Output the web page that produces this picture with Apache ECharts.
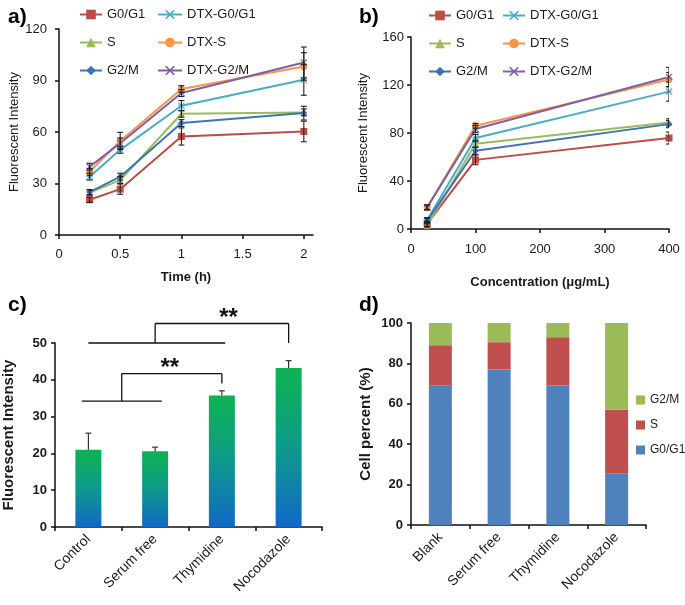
<!DOCTYPE html>
<html><head><meta charset="utf-8">
<script src="https://cdn.jsdelivr.net/npm/echarts@6/dist/echarts.min.js"></script>
<style>html,body{margin:0;padding:0;background:#fff}#c{width:685px;height:605px}</style>
</head><body><div id="c"></div>
<script>
// ---- Panel a: fluorescence vs time ----
const timeX = [0.25, 0.5, 1, 2];
const aG0G1 = [20.5, 26.7, 57.4, 60.3];
const aS = [24.7, 32, 70.6, 71.4];
const aG2M = [25, 34, 65.2, 71];
const aDtxG0G1 = [34, 49.6, 75.3, 90.4];
const aDtxS = [36.8, 54.8, 85, 98.2];
const aDtxG2M = [39.8, 53.5, 82.7, 100.5];
const aErrG0G1 = [1.5, 3, 5, 6];
const aErrS = [1.5, 2, 2, 2];
const aErrG2M = [1.5, 2, 2, 4];
const aErrDtxG0G1 = [2, 2, 3, 9];
const aErrDtxS = [2, 5, 2, 8];
const aErrDtxG2M = [2, 3, 2, 9];
// ---- Panel b: fluorescence vs concentration ----
const concX = [25, 100, 400];
const bG0G1 = [4.2, 57.6, 75.8];
const bS = [3, 71, 88.8];
const bG2M = [7, 65.2, 87.4];
const bDtxG0G1 = [7.5, 75.8, 114.5];
const bDtxS = [18, 86, 124.5];
const bDtxG2M = [18, 83.3, 126.7];
const bErrG0G1 = [2, 4, 5];
const bErrS = [1.5, 3, 3];
const bErrG2M = [2, 3, 3];
const bErrDtxG0G1 = [2, 3, 8];
const bErrDtxS = [2, 2, 6];
const bErrDtxG2M = [2, 3, 8];
// ---- Panel c ----
const cCats = ['Control', 'Serum free', 'Thymidine', 'Nocodazole'];
const cVals = [21.0, 20.6, 35.7, 43.2];
const cErr = [4.5, 1.1, 1.3, 2.0];
// ---- Panel d ----
const dCats = ['Blank', 'Serum free', 'Thymidine', 'Nocodazole'];
const dG0G1 = [69, 77, 69, 25.6];
const dS = [20, 13.5, 24, 31.4];
const dG2M = [11, 9.5, 7, 43];
// ---- tick settings ----
const aXTickValues = [0, 0.5, 1, 1.5, 2];
const aXTicks = {min: 0, max: 2.075};
const aYTicks = {min: 0, max: 120, interval: 30};
const bXTicks = {min: 0, max: 400, interval: 100};
const bYTicks = {min: 0, max: 160, interval: 40};
const cYTicks = {min: 0, max: 50, interval: 10};
const dYTicks = {min: 0, max: 100, interval: 20};

const seriesNames = ['G0/G1', 'DTX-G0/G1', 'S', 'DTX-S', 'G2/M', 'DTX-G2/M'];
const colors = {'G0/G1': '#BE4B48', 'DTX-G0/G1': '#4BACC6', 'S': '#9BBB59', 'DTX-S': '#F79646', 'G2/M': '#3F73B8', 'DTX-G2/M': '#7F5FA6'};
const XPATH = 'path://M0,1.2 L1.2,0 L5,3.8 L8.8,0 L10,1.2 L6.2,5 L10,8.8 L8.8,10 L5,6.2 L1.2,10 L0,8.8 L3.8,5 Z';
const STARPATH = 'path://M0,1.2 L1.2,0 L5,3.8 L8.8,0 L10,1.2 L6.2,5 L10,8.8 L8.8,10 L5,6.2 L1.2,10 L0,8.8 L3.8,5 Z M0,4.4 L10,4.4 L10,5.6 L0,5.6 Z';
const symbols = {'G0/G1': 'rect', 'DTX-G0/G1': STARPATH, 'S': 'triangle', 'DTX-S': 'circle', 'G2/M': 'diamond', 'DTX-G2/M': XPATH};

const aData = {'G0/G1': [aG0G1, aErrG0G1], 'DTX-G0/G1': [aDtxG0G1, aErrDtxG0G1], 'S': [aS, aErrS], 'DTX-S': [aDtxS, aErrDtxS], 'G2/M': [aG2M, aErrG2M], 'DTX-G2/M': [aDtxG2M, aErrDtxG2M]};
const bData = {'G0/G1': [bG0G1, bErrG0G1], 'DTX-G0/G1': [bDtxG0G1, bErrDtxG0G1], 'S': [bS, bErrS], 'DTX-S': [bDtxS, bErrDtxS], 'G2/M': [bG2M, bErrG2M], 'DTX-G2/M': [bDtxG2M, bErrDtxG2M]};

const FONT = 'Liberation Sans';
const TXT = '#1a1a1a';

function errRender(upOnly) {
  return function (params, api) {
    const x = api.value(0), y = api.value(1), e = api.value(2);
    const top = api.coord([x, y + e]);
    const bot = api.coord(upOnly ? [x, y] : [x, y - e]);
    const w = 3;
    const st = {stroke: '#222', lineWidth: 1.1};
    const ch = [
      {type: 'line', shape: {x1: top[0], y1: top[1], x2: bot[0], y2: bot[1]}, style: st},
      {type: 'line', shape: {x1: top[0] - w, y1: top[1], x2: top[0] + w, y2: top[1]}, style: st}
    ];
    if (!upOnly) ch.push({type: 'line', shape: {x1: bot[0] - w, y1: bot[1], x2: bot[0] + w, y2: bot[1]}, style: st});
    return {type: 'group', children: ch};
  };
}

function buildErr(xs, dataMap) {
  const out = [];
  seriesNames.forEach(n => {
    const [v, e] = dataMap[n];
    xs.forEach((x, i) => out.push([x, v[i], e[i]]));
  });
  return out;
}

const series = [];
seriesNames.forEach(n => {
  series.push({
    name: n, type: 'line', xAxisIndex: 0, yAxisIndex: 0,
    data: timeX.map((x, i) => [x, aData[n][0][i]]),
    symbol: symbols[n], symbolSize: 7, color: colors[n],
    lineStyle: {width: 2, color: colors[n]}, itemStyle: {color: colors[n]}, z: 3
  });
  series.push({
    name: n, type: 'line', xAxisIndex: 1, yAxisIndex: 1,
    data: concX.map((x, i) => [x, bData[n][0][i]]),
    symbol: symbols[n], symbolSize: 7, color: colors[n],
    lineStyle: {width: 2, color: colors[n]}, itemStyle: {color: colors[n]}, z: 3
  });
});
series.push({type: 'custom', xAxisIndex: 0, yAxisIndex: 0, renderItem: errRender(false), data: buildErr(timeX, aData), z: 4, clip: false, silent: true});
series.push({type: 'custom', xAxisIndex: 1, yAxisIndex: 1, renderItem: errRender(false), data: buildErr(concX, bData), z: 4, clip: true, silent: true});

// Panel c bars
series.push({
  type: 'bar', xAxisIndex: 2, yAxisIndex: 2, data: cVals, barWidth: 26,
  itemStyle: {color: new echarts.graphic.LinearGradient(0, 0, 0, 1, [{offset: 0, color: '#0DB350'}, {offset: 0.5, color: '#0E9A8A'}, {offset: 1, color: '#1267C7'}])}
});
series.push({type: 'custom', xAxisIndex: 2, yAxisIndex: 2, renderItem: errRender(true), data: cVals.map((v, i) => [i, v, cErr[i]]), z: 4, clip: false, silent: true});

// significance brackets (annotation, in category units on a hidden value axis)
const brackets = [
  {base: [-0.1, 1.1, 34.2], riseX: 0.5, topY: 41.7, endX: 2, endY: 39, label: '**', labelX: 1.22},
  {base: [0, 2.05, 50], riseX: 1, topY: 55.3, endX: 3, endY: 50, label: '**', labelX: 2.1}
];
series.push({
  type: 'custom', xAxisIndex: 4, yAxisIndex: 2, clip: false, silent: true, z: 5,
  data: brackets.map((b, i) => [i]),
  renderItem: function (params, api) {
    const b = brackets[params.dataIndex];
    const p = (x, y) => api.coord([x, y]);
    const st = {stroke: '#111', lineWidth: 1.3};
    const L = (a, c) => ({type: 'line', shape: {x1: a[0], y1: a[1], x2: c[0], y2: c[1]}, style: st});
    const lt = p(b.labelX, b.topY);
    return {type: 'group', children: [
      L(p(b.base[0], b.base[2]), p(b.base[1], b.base[2])),
      L(p(b.riseX, b.base[2]), p(b.riseX, b.topY)),
      L(p(b.riseX, b.topY), p(b.endX, b.topY)),
      L(p(b.endX, b.topY), p(b.endX, b.endY)),
      {type: 'text', x: lt[0], y: lt[1] + 7, style: {text: b.label, font: 'bold 24px ' + FONT, fill: '#111', align: 'center', verticalAlign: 'bottom'}}
    ]};
  }
});

// Panel d stacked bars
const dColors = {'G0/G1': '#4F81BD', 'S': '#C0504D', 'G2/M': '#9BBB59'};
[['G0/G1', dG0G1], ['S', dS], ['G2/M', dG2M]].forEach(([n, v]) => {
  series.push({name: n + ' ', type: 'bar', stack: 'd', xAxisIndex: 3, yAxisIndex: 3, data: v, barWidth: 23, itemStyle: {color: dColors[n]}, color: dColors[n]});
});

const axisLine = {show: true, onZero: false, lineStyle: {color: '#111', width: 1.5}};
const axisTick = {show: true, length: 4, lineStyle: {color: '#111', width: 1.5}};
const lab = (size, bold) => ({fontFamily: FONT, fontSize: size, color: TXT, fontWeight: bold ? 'bold' : 'normal'});
const legendBase = {orient: 'vertical', itemHeight: 12, itemGap: 15, textStyle: lab(13), padding: 0};

const option = {
  animation: false,
  backgroundColor: '#fff',
  title: [
    {text: 'a)', left: 3, top: 2, textStyle: {fontFamily: FONT, fontSize: 21, fontWeight: 'bold', color: '#000'}},
    {text: 'b)', left: 354, top: 2, textStyle: {fontFamily: FONT, fontSize: 21, fontWeight: 'bold', color: '#000'}},
    {text: 'c)', left: 3, top: 290, textStyle: {fontFamily: FONT, fontSize: 21, fontWeight: 'bold', color: '#000'}},
    {text: 'd)', left: 354, top: 290, textStyle: {fontFamily: FONT, fontSize: 21, fontWeight: 'bold', color: '#000'}}
  ],
  legend: [
    Object.assign({data: ['G0/G1', 'S', 'G2/M'], left: 79, top: 8, itemWidth: 22}, legendBase),
    Object.assign({data: ['DTX-G0/G1', 'DTX-S', 'DTX-G2/M'], left: 157, top: 8, itemWidth: 24}, legendBase),
    Object.assign({data: ['G0/G1', 'S', 'G2/M'], left: 428, top: 9, itemWidth: 22}, legendBase),
    Object.assign({data: ['DTX-G0/G1', 'DTX-S', 'DTX-G2/M'], left: 502, top: 9, itemWidth: 22}, legendBase),
    {data: ['G2/M ', 'S ', 'G0/G1 '], orient: 'vertical', left: 636, top: 394, itemWidth: 9, itemHeight: 9, itemGap: 13, icon: 'rect', textStyle: lab(12), padding: 0, formatter: n => n.trim()}
  ],
  grid: [
    {left: 59, top: 29, width: 254, height: 206},
    {left: 411, top: 37, width: 258, height: 192},
    {left: 55, top: 343, width: 267, height: 184},
    {left: 411, top: 323, width: 235, height: 202}
  ],
  xAxis: [
    Object.assign({type: 'value', gridIndex: 0, name: 'Time (h)', nameLocation: 'middle', nameGap: 36, nameTextStyle: lab(13, true), axisLine,
      axisTick: Object.assign({customValues: aXTickValues}, axisTick), splitLine: {show: false},
      axisLabel: Object.assign(lab(13), {margin: 13, customValues: aXTickValues})}, aXTicks),
    Object.assign({type: 'value', gridIndex: 1, name: 'Concentration (μg/mL)', nameLocation: 'middle', nameGap: 47, nameTextStyle: lab(13, true), axisLine, axisTick, splitLine: {show: false}, axisLabel: Object.assign(lab(13), {margin: 14})}, bXTicks),
    {type: 'category', gridIndex: 2, data: cCats, axisLine, axisTick, axisLabel: Object.assign(lab(14), {rotate: 45, margin: 10, interval: 0})},
    {type: 'category', gridIndex: 3, data: dCats, axisLine, axisTick, axisLabel: Object.assign(lab(14), {rotate: 45, margin: 10, interval: 0})},
    {type: 'value', gridIndex: 2, min: -0.5, max: 3.5, show: false}
  ],
  yAxis: [
    Object.assign({type: 'value', gridIndex: 0, name: 'Fluorescent Intensity', nameLocation: 'middle', nameGap: 34, nameTextStyle: lab(13), axisLine, axisTick, splitLine: {show: false}, axisLabel: Object.assign(lab(13), {margin: 12})}, aYTicks),
    Object.assign({type: 'value', gridIndex: 1, name: 'Fluorescent Intensity', nameLocation: 'middle', nameGap: 41, nameTextStyle: lab(13), axisLine, axisTick, splitLine: {show: false}, axisLabel: Object.assign(lab(13), {margin: 7})}, bYTicks),
    Object.assign({type: 'value', gridIndex: 2, name: 'Fluorescent Intensity', nameLocation: 'middle', nameGap: 39, nameTextStyle: lab(15, true), axisLine, axisTick, splitLine: {show: false}, axisLabel: Object.assign(lab(13, true), {margin: 8})}, cYTicks),
    Object.assign({type: 'value', gridIndex: 3, name: 'Cell percent (%)', nameLocation: 'middle', nameGap: 38, nameTextStyle: lab(15, true), axisLine, axisTick, splitLine: {show: false}, axisLabel: Object.assign(lab(13, true), {margin: 8})}, dYTicks)
  ],
  series
};
const chart = echarts.init(document.getElementById('c'), null, {renderer: 'canvas'});
chart.setOption(option);
</script></body></html>
